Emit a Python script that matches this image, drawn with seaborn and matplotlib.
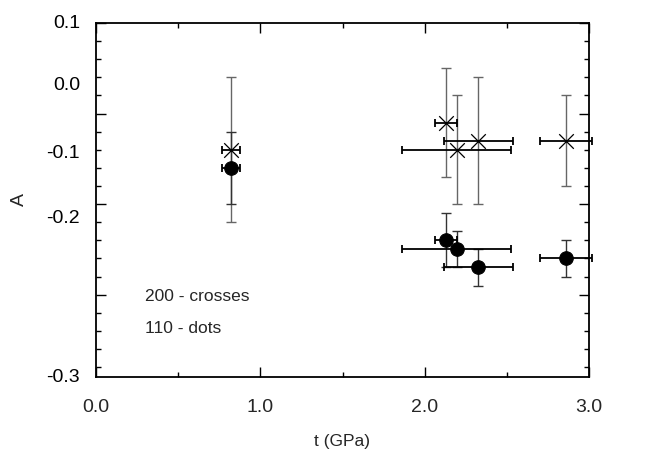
import matplotlib
matplotlib.use("Agg")
import matplotlib.pyplot as plt
from matplotlib.ticker import MultipleLocator, FormatStrFormatter
import seaborn as sns
import pandas as pd

# ---- data ----
cross_t = [0.82, 2.13, 2.195, 2.327, 2.86]
cross_A = [-0.04, -0.01, -0.04, -0.03, -0.03]
cross_terr = [0.055, 0.066, 0.33, 0.21, 0.16]
cross_Aerr = [0.08, 0.06, 0.06, 0.07, 0.05]

dot_t = [0.82, 2.13, 2.195, 2.327, 2.86]
dot_A = [-0.06, -0.14, -0.15, -0.17, -0.16]
dot_terr = [0.055, 0.066, 0.33, 0.21, 0.16]
dot_Aerr = [0.04, 0.03, 0.02, 0.02, 0.02]

ytick_labels = ["0.1", "0.0", "-0.1", "-0.2", "-0.3"]
ytick_label_pos = [0.1, 0.031, -0.0438, -0.1154, -0.2917]
xtick_vals = [0.0, 1.0, 2.0, 3.0]
legend_lines = ["200 - crosses", "110 - dots"]

sns.set_theme(style="ticks")
plt.rcParams["font.family"] = ["Liberation Sans", "DejaVu Sans"]

fig = plt.figure(figsize=(6.5, 4.54), dpi=100)
ax = fig.add_axes([96/650, 1-377/454, 493/650, 354/454])

cross_df = pd.DataFrame({"t": cross_t, "A": cross_A})
dot_df = pd.DataFrame({"t": dot_t, "A": dot_A})

# y error bars (grey, thin)
ax.errorbar(cross_t, cross_A, yerr=cross_Aerr, fmt="none", ecolor="#666666",
            elinewidth=1.0, capsize=3.5, capthick=1.0, zorder=2)
ax.errorbar(dot_t, dot_A, yerr=dot_Aerr, fmt="none", ecolor="#333333",
            elinewidth=1.0, capsize=3.5, capthick=1.0, zorder=2)
# x error bars (black)
ax.errorbar(cross_t, cross_A, xerr=cross_terr, fmt="none", ecolor="black",
            elinewidth=1.3, capsize=3, capthick=1.3, zorder=3, clip_on=False)
ax.errorbar(dot_t, dot_A, xerr=dot_terr, fmt="none", ecolor="black",
            elinewidth=1.3, capsize=3, capthick=1.3, zorder=3, clip_on=False)

sns.scatterplot(data=cross_df, x="t", y="A", marker="x", s=110, color="black",
                linewidth=0.9, ax=ax, zorder=4, legend=False)
sns.scatterplot(data=dot_df, x="t", y="A", marker="o", s=95, color="black",
                edgecolor="black", ax=ax, zorder=5, legend=False)

ax.set_xlim(0, 3.0)
ax.set_ylim(-0.291, 0.1)

ax.set_xticks(xtick_vals)
ax.xaxis.set_major_formatter(FormatStrFormatter("%.1f"))
ax.xaxis.set_minor_locator(MultipleLocator(0.5))
ax.yaxis.set_major_locator(MultipleLocator(0.1))
ax.yaxis.set_minor_locator(MultipleLocator(0.02))

ax.tick_params(which="both", direction="in", top=True, right=True,
               color="black", width=1.0)
ax.tick_params(which="major", length=7.2)
ax.tick_params(which="minor", length=3.6)
ax.tick_params(axis="x", which="major", labelsize=14, pad=16)
ax.tick_params(axis="y", which="both", labelleft=False)

ytrans = ax.get_yaxis_transform()
for lab, pos in zip(ytick_labels, ytick_label_pos):
    ax.text(-0.032, pos, lab, transform=ytrans, ha="right", va="center",
            fontsize=14, color="black")

for sp in ax.spines.values():
    sp.set_linewidth(1.3)
    sp.set_color("black")

ax.set_xlabel("t (GPa)", fontsize=12.5, labelpad=13)
ax.set_ylabel("A", fontsize=14, labelpad=49)

ax.text(0.099, 0.226, legend_lines[0], transform=ax.transAxes, fontsize=12.5,
        ha="left", va="center")
ax.text(0.099, 0.138, legend_lines[1], transform=ax.transAxes, fontsize=12.5,
        ha="left", va="center")

fig.savefig("out.png", dpi=100)
